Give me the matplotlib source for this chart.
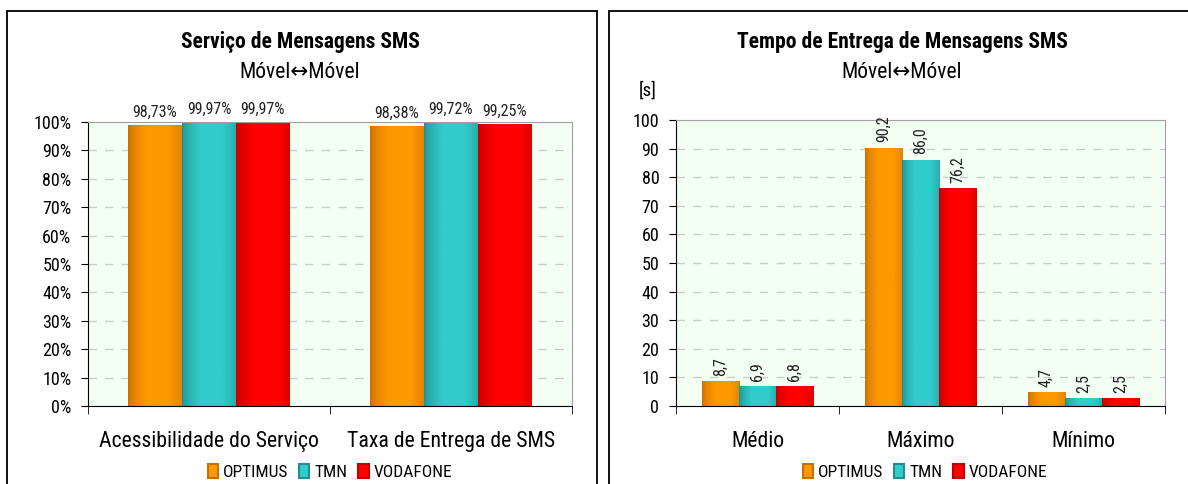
import numpy as np
import matplotlib
matplotlib.use("Agg")
import matplotlib.pyplot as plt
from matplotlib.patches import Rectangle, Patch

# ---------------- data ----------------
series = ["OPTIMUS", "TMN", "VODAFONE"]
cats_left = ["Acessibilidade do Serviço", "Taxa de Entrega de SMS"]
optimus_left = [98.73, 98.38]
tmn_left = [99.97, 99.72]
vodafone_left = [99.97, 99.25]

cats_right = ["Médio", "Máximo", "Mínimo"]
optimus_right = [8.7, 90.2, 4.7]
tmn_right = [6.9, 86.0, 2.5]
vodafone_right = [6.8, 76.2, 2.5]

title_left = "Serviço de Mensagens SMS"
title_right = "Tempo de Entrega de Mensagens SMS"
subtitle = "Móvel\u2194Móvel"

FONT = ["Roboto Condensed", "DejaVu Sans"]
plt.rcParams["font.family"] = FONT

W, H = 1188, 484
fig = plt.figure(figsize=(W / 100, H / 100), dpi=100)

def px_axes(l, t, r, b):
    return fig.add_axes([l / W, 1 - b / H, (r - l) / W, (b - t) / H])

# panel borders
for (l, t, r, b) in [(7, 11, 597, 495), (609, 11, 1200, 495)]:
    fig.patches.append(Rectangle((l / W, 1 - b / H), (r - l) / W, (b - t) / H,
                                 transform=fig.transFigure, fill=False,
                                 edgecolor="black", linewidth=1.3, zorder=0))

colors = {
    "OPTIMUS": ((0.78, 0.44, 0.0), (1.0, 0.6, 0.0)),
    "TMN": ((0.13, 0.56, 0.56), (0.2, 0.8, 0.8)),
    "VODAFONE": ((0.75, 0.0, 0.0), (1.0, 0.0, 0.0)),
}

def gradient(name):
    dark, bright = colors[name]
    t = np.linspace(0, 1, 64)
    f = np.clip(1 - np.abs(t - 0.55) / 0.55, 0, 1) ** 0.6
    f = np.clip(f * 1.3, 0, 1)
    dark = np.array(dark); bright = np.array(bright)
    img = dark[None, :] + (bright - dark)[None, :] * f[:, None]
    return img[None, :, :]

def draw_chart(ax, cats, data, bw, ymax, ystep, fmt, rotate, pct):
    n = len(cats)
    x = np.arange(n)
    ax.set_facecolor("#F3FFF3")
    ax.set_xlim(-0.5, n - 0.5)
    ax.set_ylim(0, ymax)
    for yv in np.arange(ystep, ymax, ystep):
        ax.axhline(yv, color="#CCCCCC", linestyle=(0, (6, 6)), linewidth=1, zorder=0.5)
    for i, name in enumerate(series):
        vals = data[i]
        bars = ax.bar(x + (i - 1) * bw, vals, bw, color="none", edgecolor="none", zorder=2)
        for p, v in zip(bars.patches, vals):
            ax.imshow(gradient(name), extent=[p.get_x(), p.get_x() + p.get_width(), 0, p.get_height()],
                      aspect="auto", zorder=2, interpolation="bilinear")
            label = fmt(v)
            ax.annotate(label, (p.get_x() + p.get_width() / 2, p.get_height()),
                        xytext=(0, 4), textcoords="offset points",
                        rotation=90 if rotate else 0,
                        ha="center", va="bottom", fontsize=11.5, color="#222222",
                        annotation_clip=False)
    ax.set_xlim(-0.5, n - 0.5)
    ax.set_ylim(0, ymax)
    ax.spines["top"].set_color("#A0A0A0")
    ax.spines["right"].set_color("#A0A0A0")
    ax.spines["left"].set_color("black")
    ax.spines["bottom"].set_color("black")
    yt = np.arange(0, ymax + 0.001, ystep)
    ax.set_yticks(yt)
    if pct:
        ax.set_yticklabels([f"{int(v)}%" for v in yt])
    else:
        ax.set_yticklabels([f"{int(v)}" for v in yt])
    ax.tick_params(axis="y", direction="out", length=5, labelsize=13, pad=7, colors="black")
    ax.set_xticks(x)
    ax.set_xticklabels(cats, fontsize=15.7)
    ax.tick_params(axis="x", length=0, pad=18)
    ax.set_xticks(np.arange(-0.5, n, 1), minor=True)
    ax.tick_params(axis="x", which="minor", length=6, direction="out")

axL = px_axes(88, 122, 572, 406)
draw_chart(axL, cats_left, [optimus_left, tmn_left, vodafone_left], 0.223, 100, 10,
           lambda v: f"{v:.2f}%".replace(".", ","), False, True)

axR = px_axes(676, 120, 1165, 406)
draw_chart(axR, cats_right, [optimus_right, tmn_right, vodafone_right], 0.229, 100, 10,
           lambda v: f"{v:.1f}".replace(".", ","), True, False)

# titles
for cx, t in [(300, title_left), (902, title_right)]:
    fig.text(cx / W, 1 - 42 / H, t, ha="center", va="center", fontsize=15.5, fontweight="bold")
    fig.text(cx / W, 1 - 72 / H, subtitle, ha="center", va="center", fontsize=15.5, family=FONT)
fig.text(648 / W, 1 - 91 / H, "[s]", ha="center", va="center", fontsize=13.5)

# legends
handles = [Patch(facecolor=colors[s][1], edgecolor=colors[s][0], linewidth=1.5) for s in series]
for cx in [330, 925]:
    fig.legend(handles, series, loc="center", bbox_to_anchor=(cx / W, 1 - 472 / H), ncol=3,
               frameon=False, fontsize=12.5, handlelength=0.6, handleheight=0.9,
               handletextpad=0.3, columnspacing=0.6)

fig.savefig("out.png", dpi=100)
